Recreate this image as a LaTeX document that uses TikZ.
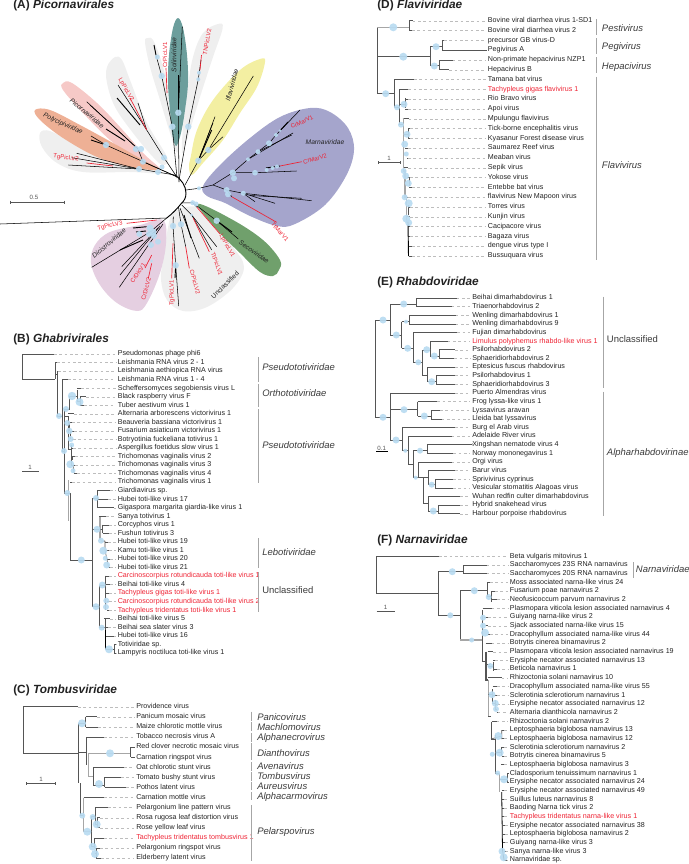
\documentclass[tikz,border=0pt]{standalone}
\usepackage{fontspec}
\setmainfont{Liberation Sans}
\definecolor{nodeblue}{HTML}{B9DBF1}
\definecolor{branchgrey}{HTML}{555555}
\definecolor{barGrey}{HTML}{A6A6A6}
\definecolor{leaderGrey}{HTML}{BDBDBD}
\definecolor{textblack}{HTML}{222222}
\definecolor{hitred}{HTML}{EE2233}
\definecolor{blobgrey}{HTML}{EFEFEF}
\definecolor{tealblob}{HTML}{6C9E9C}
\definecolor{yellowblob}{HTML}{F3EFA2}
\definecolor{purpleblob}{HTML}{A5A5CC}
\definecolor{greenblob}{HTML}{70A06C}
\definecolor{mauveblob}{HTML}{E5CFE1}
\definecolor{pinkblob}{HTML}{F6C9C7}
\definecolor{orangeblob}{HTML}{EEB095}
\tikzset{
  branch/.style={draw=branchgrey,line width=0.45pt},
  thickbranch/.style={draw=barGrey,line width=1.1pt},
  radial/.style={draw=black,line width=0.4pt},
  radialthick/.style={draw=black,line width=0.7pt},
  radialred/.style={draw=hitred,line width=0.5pt},
  leader/.style={draw=leaderGrey,line width=0.3pt,dash pattern=on 2pt off 2pt,shorten >=1.2pt},
  leaf/.style={anchor=west,inner sep=0pt,text height=3.9pt,text depth=1.1pt,font=\fontsize{5.35}{6}\selectfont},
  familybar/.style={draw=barGrey,line width=0.9pt},
  family/.style={anchor=west,inner sep=0pt,text=branchgrey!70!black,font=\fontsize{7.1}{8}\selectfont\itshape},
  plainfamily/.style={family,font=\fontsize{7.1}{8}\selectfont},
  paneltitle/.style={anchor=west,inner sep=0pt,text=textblack,font=\fontsize{8.9}{10}\selectfont\bfseries},
  scalebar/.style={draw=branchgrey,line width=0.4pt},
  scalelabel/.style={inner sep=0pt,text=branchgrey,font=\fontsize{4.6}{5}\selectfont},
  cladelabel/.style={inner sep=0pt,text=textblack,font=\fontsize{5}{6}\selectfont\itshape},
  redlabel/.style={inner sep=0pt,text=hitred,font=\fontsize{4.5}{5}\selectfont},
  support/.style={fill=nodeblue,opacity=0.92},
}
% rows of a tree: parent x / tip x / name / colour
\newcommand{\leafrows}[5]{%
  \foreach \px/\tip/\txt/\col [count=\i] in {#5} {
    \pgfmathsetmacro{\rowy}{#3+#4*(\i-1)}
    \node[leaf,text=\col] (#1\i) at (#2,\rowy) {\txt};
    \coordinate (#1t\i) at (\tip,\rowy);
    \draw[leader] (#1t\i) -- (#1\i.west);
    \draw[branch] (\px,\rowy) -- (#1t\i);
  }%
}
\newcommand{\supports}[1]{\foreach \cx/\cy/\cr in {#1} \fill[support] (\cx,\cy) circle (\cr);}
\begin{document}
\begin{tikzpicture}[x=0.75pt,y=0.75pt,yscale=-1,xscale=1]
\useasboundingbox (0,0) rectangle (689,864);

%Panel A, coloured clades
\fill[blobgrey] plot[smooth cycle,tension=0.6] coordinates {(148,38) (145,42) (150,67) (160,100) (170,133) (177,153) (177,133) (167,83) (160,57) (153,40)};
\fill[blobgrey] plot[smooth cycle,tension=0.6] coordinates {(218,24) (222.7,28) (213,57) (200,97) (187,140) (182,153) (183,127) (187,93) (193,57) (203,33)};
\fill[tealblob] plot[smooth cycle,tension=0.6] coordinates {(178,18) (183,28) (187,55) (188,83) (185,110) (181,133) (176,146) (172,133) (170,110) (168,83) (169,55) (173,28)};
\fill[yellowblob] plot[smooth cycle,tension=0.6] coordinates {(260,59) (265,62) (257,87) (240,113) (223,140) (203,163) (192,175) (189,167) (190.7,157) (197,130) (213,100) (240,70)};
\fill[blobgrey] plot[smooth cycle,tension=0.6] coordinates {(115,57) (107,67) (107,83) (115,107) (133,133) (153,157) (163,165) (167,157) (147,123) (130,80) (122,60)};
\fill[blobgrey] plot[smooth cycle,tension=0.6] coordinates {(40,133) (50,131) (73,143) (113,160) (163,173) (130,172) (83,172) (57,163) (42,147)};
\fill[pinkblob] plot[smooth cycle,tension=0.6] coordinates {(63,83) (72,83) (97,103) (120,127) (143,153) (161,170) (143,165) (110,140) (83,113) (63,90)};
\fill[orangeblob] plot[smooth cycle,tension=0.6] coordinates {(35,110) (50,110) (80,125) (113,143) (143,160) (160,170) (130,167) (97,157) (63,138) (40,120)};
\fill[purpleblob] plot[smooth cycle,tension=0.6] coordinates {(203,186) (220,165) (250,138) (280,117) (310,108) (330,112) (348,128) (354,150) (346,176) (325,205) (295,224) (277,226) (250,216) (225,203) (207,196)};
\fill[blobgrey] plot[smooth cycle,tension=0.6] coordinates {(170,218) (163,260) (161,280) (167,300) (183,311) (207,307) (233,288) (244,267) (233,247) (213,223) (197,207) (177,210)};
\fill[greenblob] plot[smooth cycle,tension=0.6] coordinates {(198,204) (233,220) (263,240) (280,260) (279,270) (273,276) (260,272) (240,253) (217,230)};
\fill[mauveblob] plot[smooth cycle,tension=0.6] coordinates {(163,220) (166,243) (160,273) (147,303) (137,311) (117,303) (100,285) (91,263) (95,245) (110,232) (140,225)};

%Panel A, backbone and root
\draw[radialthick] (175,175) .. controls (181,179) and (186,186) .. (186,193) .. controls (186,198) and (184,201) .. (181.7,203) .. controls (177,209) and (172,214) .. (166.7,218);
\draw[radial] (0,224) -- (166.7,218);
%Panel A, upper left clades
\draw[radial] (176.7,176.7) -- (164,157.7) -- (146.7,130) -- (118,85);
\draw[radial] (146.7,130) -- (138,103);
\draw[radialthick] (140,125) -- (117,98);
\draw[radialred] (146.7,130) -- (130,98);
\draw[radial] (176.7,176.7) -- (143,161.7) -- (138,149) -- (86.7,101.7);
\draw[radial] (138,149) -- (90,105);
\draw[radialthick] (125,141) -- (106,129);
\draw[radial] (176.7,176.7) -- (106,145) -- (91,136);
\draw[radialthick] (106,145) -- (91,140);
\draw[radial] (175,175) -- (139,169) -- (76.7,153.3);
\draw[radial] (139,169) -- (71.7,157.7);
\draw[radial] (139,169) -- (68.3,165);
\draw[radialred] (113,166) -- (86.7,163);
%Panel A, upper clades
\draw[radial] (177,178) -- (172.3,126.7) -- (161.7,76) -- (156,55);
\draw[radialthick] (156,55) -- (154,45);
\draw[radialred] (166,68) -- (167,93);
\draw[radial] (179,182) -- (178.3,112.7) -- (182.3,26.7);
\draw[radialthick] (178.3,112.7) -- (178.3,75);
\draw[radial] (179,180) -- (188.3,126.7) -- (198.3,79.3) -- (201,60);
\draw[radialred] (200,70) -- (201.5,55);
%Panel A, Iflaviviridae
\draw[radial] (185,185) -- (198.3,160.7) -- (208.3,150) -- (253.3,76);
\draw[radial] (208.3,150) -- (223,136.7);
\draw[radial] (198.3,160.7) -- (215,116.7);
\draw[radial] (198.3,160.7) -- (213,123);
\draw[radialthick] (198.3,160.7) -- (211.7,130);
%Panel A, Marnaviridae
\draw[radial] (186,190) -- (199,188.3) -- (213,185) -- (232.7,172.7) -- (255,172.7) -- (296.7,171);
\draw[radialthick] (266,168) -- (280,166);
\draw[radialred] (280,166) -- (301.7,161.7);
\draw[radial] (232.7,172.7) -- (248,159.3) -- (258,151.7) -- (269,143.3) -- (276,135) -- (300,110);
\draw[radial] (248,159.3) -- (293,133);
\draw[radial] (258,151.7) -- (291.7,135);
\draw[radialthick] (280,130.7) -- (288,122);
\draw[radial] (213,185) -- (226.7,190) -- (243.3,193.3) -- (311.7,200.7);
\draw[radial] (250,195.5) -- (301.7,198.3);
\draw[radial] (243.3,193.3) -- (275,203.3);
\draw[radial] (243.3,193.3) -- (255,201.7);
\draw[radial] (226.7,190) -- (231.7,196.7);
\draw[radialred] (231.7,196.7) -- (276.7,222.3);
%Panel A, Secoviridae
\draw[radial] (181.7,203) -- (192.7,202.7) -- (216.7,220.7) -- (238.3,239);
\draw[radialthick] (216.7,220.7) -- (232,232);
\draw[radialred] (197,207.3) -- (220,234);
\draw[radial] (192.7,202.7) -- (197,207.3);
%Panel A, Unclassified
\draw[radial] (181.7,205) -- (191.7,215) -- (216.7,246.7);
\draw[radial] (191.7,215) -- (211.7,250);
\draw[radialred] (193.3,218.3) -- (209.3,251.7);
\draw[radial] (180,208) -- (199.3,258.3);
\draw[radialthick] (184,215) -- (191,238);
\draw[radial] (178.5,207) -- (181,224.3) -- (185.7,246.7);
\draw[radialred] (185.7,246.7) -- (189.3,268.3);
\draw[radial] (173.3,216.7) -- (173,226) -- (175.7,265.3) -- (178.7,306);
\draw[radialthick] (175.7,265.3) -- (175,278);
\draw[radialred] (173,243.3) -- (171.7,278.3);
%Panel A, Dicistroviridae
\draw[radial] (166.7,218) -- (150,232) -- (91.7,267.3);
\draw[radialthick] (133,228) -- (146.7,226.7);
\draw[radialthick] (136,232) -- (146,231);
\draw[radialthick] (120,250) -- (143,240);
\draw[radial] (160,226) -- (120,275);
\draw[radial] (158,228) -- (121.7,266.7);
\draw[radial] (163,224) -- (119.3,287.3);
\draw[radialred] (151.7,255) -- (145,268);
\draw[radialred] (151.7,263.3) -- (148.3,278.3);
\draw[radialred] (126.7,223.3) -- (156.7,220);
%Panel A, support
\supports{178.3/112.7/3.2,172.3/126.7/3.2,188.3/126.7/3.2,161.7/76/3.2,157.3/57/2.5,199/72.7/2,198.3/79.3/2,208.3/150/3.2,198.3/160.7/3.2,164/157.7/3,143/161.7/3,136/149/3.2,141/149/3.2,106/145/3.2,158/172/3,162/167/2.5,139/169/3,
248/159.3/2,258/151.7/2.5,269/143.3/3,276/135/2,280/130.7/1.5,232.7/172.7/3.2,234/178.3/3,255/172.7/2.8,266.7/170/2,272.5/168/2,277/166.5/2,199/188.3/2,226.7/190/3,228/194.3/3,243.3/193.3/2.5,
192.7/202.7/2.5,196/204/2.5,216.7/220.7/3.2,191.7/215/1.5,181/224.3/3.2,173/226/3.2,175.7/265.3/3.2,150/228/3.5,153/232/3.5,149/234/3,154/236/3,139.3/234/3,158/241.7/3,151/245/3,151.7/261/1.5}
%Panel A, labels
\node[paneltitle] (titleA) at (13,5) {(A) \textit{Picornavirales}};
\node[cladelabel,rotate=90] (solin) at (174,55) {Solinviridae};
\node[redlabel,rotate=90] (crpic1) at (165,55) {CrPicLV1};
\node[redlabel,rotate=80] (tnpic2) at (207,42) {TNPicLV2};
\node[cladelabel,rotate=75] (iflavi) at (232,85) {Iflaviviridae};
\node[cladelabel] (marna) at (325,142) {Marnaviridae};
\node[redlabel,rotate=25] (crmar1) at (302,122) {CrMarV1};
\node[redlabel,rotate=15] (crmar2) at (315,159) {CrMarV2};
\node[cladelabel,rotate=-40] (picorna) at (87,113) {Picornaviridae};
\node[cladelabel,rotate=-25] (polyc) at (63,124) {Polycipiviridae};
\node[redlabel,rotate=-8] (tgpic2) at (66,158) {TgPicLV2};
\node[redlabel,rotate=-60] (lppic2) at (126,90) {LpPicLV2};
\node[redlabel,rotate=-60] (lppic1) at (227,246) {LpPicLV1};
\node[redlabel,rotate=-70] (ttpic1) at (217,264) {TtPicLV1};
\node[redlabel,rotate=-75] (crpic2) at (195,282) {CrPicLV2};
\node[redlabel,rotate=90] (tgpic1) at (172,293) {TgPicLV1};
\node[cladelabel,font=\fontsize{5}{6}\selectfont,rotate=45] (uncl) at (225,285) {Unclassified};
\node[cladelabel,rotate=-35] (seco) at (254,252) {Secoviridae};
\node[redlabel,rotate=-48] (ttmar1) at (280,232) {TtMarV1};
\node[cladelabel,rotate=40] (dicis) at (109,243) {Dicistroviridae};
\node[redlabel,rotate=55] (crdic1) at (138,273) {CrDicV1};
\node[redlabel,rotate=75] (crdic2) at (146,289) {CrDicV2};
\node[redlabel,rotate=15] (tgpic3) at (110,226) {TgPicLV3};
%scale bar
\draw[scalebar] (10,202) -- (64,202);
\draw[scalebar] (10,200.5) -- (10,203.5);
\draw[scalebar] (64,200.5) -- (64,203.5);
\node[scalelabel] (scaleA) at (34,197) {0.5};

%Panel B
\node[paneltitle] (titleB) at (13,339) {(B) \textit{Ghabrivirales}};
\leafrows{b}{117.5}{354}{8.54}{
22.3/54/Pseudomonas phage phi6/textblack,
55/57/Leishmania RNA virus 2 - 1/textblack,
57/58/Leishmania aethiopica RNA virus/textblack,
62/68/Leishmania RNA virus 1 - 4/textblack,
77/81/Scheffersomyces segobiensis virus L/textblack,
80/86/Black raspberry virus F/textblack,
80/84/Tuber aestivum virus 1/textblack,
68/74/Alternaria arborescens victorivirus 1/textblack,
69/72/Beauveria bassiana victorivirus 1/textblack,
70/74/Fusarium asiaticum victorivirus 1/textblack,
71.5/73/Botryotinia fuckeliana totivirus 1/textblack,
72/73/Aspergillus foetidus slow virus 1/textblack,
72/75/Trichomonas vaginalis virus 2/textblack,
71/75/Trichomonas vaginalis virus 3/textblack,
74/77/Trichomonas vaginalis virus 4/textblack,
70/72/Trichomonas vaginalis virus 1/textblack,
97/110/Giardiavirus sp./textblack,
97/108/Hubei toti-like virus 17/textblack,
97/114/Gigaspora margarita giardia-like virus 1/textblack,
99/106/Sanya totivirus 1/textblack,
102.5/109/Corcyphos virus 1/textblack,
102.5/109/Fushun totivirus 3/textblack,
105/108/Hubei toti-like virus 19/textblack,
106/109/Kamu toti-like virus 1/textblack,
107/110/Hubei toti-like virus 20/textblack,
108.5/110/Hubei toti-like virus 21/textblack,
105.7/109/Carcinoscorpius rotundicauda toti-like virus 1/hitred,
105.7/110/Beihai toti-like virus 4/textblack,
106/109/Tachypleus gigas toti-like virus 1/hitred,
106.5/109/Carcinoscorpius rotundicauda toti-like virus 2/hitred,
107/109/Tachypleus tridentatus toti-like virus 1/hitred,
104/110/Beihai toti-like virus 5/textblack,
103/108/Beihai sea slater virus 3/textblack,
105/114/Hubei toti-like virus 16/textblack,
114/116/Totiviridae sp./textblack,
114/116/Lampyris noctiluca toti-like virus 1/textblack}
%internal branches
\draw[branch] (22.3,354) -- (22.3,379.3) -- (55,379.3);
\draw[branch] (55,363) -- (55,379.3);
\draw[branch] (57,371) -- (57,416) (55,374) -- (57,374);
\draw[branch] (57,416) -- (62,416);
\draw[branch] (62,380) -- (62,451) -- (64,451);
\draw[branch] (64,410) -- (64,493);
\draw[branch] (64,409) -- (69,409) -- (69,396) -- (77,396);
\draw[branch] (77,390) -- (77,401) (77,401) -- (80,401);
\draw[branch] (80,397) -- (80,405);
\draw[branch] (64,416) -- (68,416) -- (68,449) -- (72,449);
\draw[branch] (69,422) -- (69,431) (70,431) -- (70,439);
\draw[branch] (71,445) -- (71,465) (72,456) -- (72,460);
\draw[branch] (73,465) -- (74,473);
\draw[thickbranch] (68.7,480) -- (68.7,521);
\draw[branch] (64,493) -- (70.7,493) -- (70.7,560) -- (92,560);
\draw[branch] (92,498) -- (92,606.7);
\draw[branch] (92,498) -- (97,498) (97,490.3) -- (97,507.4);
\draw[branch] (92,529) -- (100,529);
\draw[thickbranch] (100,517) -- (100,540);
\draw[branch] (100,529) -- (102.5,529) (102.5,524.5) -- (102.5,533);
\draw[branch] (101,541) -- (105,541) (105,541) -- (105,550) -- (108.5,567);
\draw[branch] (92,606.7) -- (99,606.7) (99,585) -- (99,627);
\draw[branch] (99,585) -- (105.7,585) (105.7,575.7) -- (105.7,610);
\draw[branch] (99,627) -- (105,627) (105,618) -- (105,649) -- (114,649) (114,644) -- (114,652.9);
\draw[draw=black,line width=0.6pt] (105,630) -- (105,649);
%support
\supports{59/416/3,66/409/3,64/451/3,72/396/4.2,79.5/402/4,67.3/423/3,69.3/431/3.3,70.7/439/3,71.7/445/2.5,70.3/464.3/4,73/470.7/2.5,67.3/493/3,81.3/560/3.5,96/498/3,97/529.3/3.5,101/540.7/3,103.3/550.7/4,105.3/558.3/2.5,106.7/565/3.5,96/606.7/3.5,102.3/585/3.5,106.3/600.7/3,106/607/3,101.7/627.7/3,109/649.3/4}
%families
\draw[familybar] (258.3,357) -- (258.3,381.7);
\draw[familybar] (258.3,384) -- (258.3,407);
\draw[familybar] (258.3,409) -- (258.3,483);
\draw[familybar] (258.3,538) -- (258.3,568);
\draw[familybar] (258.3,572) -- (258.3,612);
\node[family] (fb1) at (262,367) {Pseudototiviridae};
\node[family] (fb2) at (262,393) {Orthototiviridae};
\node[family] (fb3) at (262,445.6) {Pseudototiviridae};
\node[family] (fb4) at (262,552) {Lebotiviridae};
\node[plainfamily] (fb5) at (262,590) {Unclassified};
\draw[scalebar] (22,471.7) -- (38.7,471.7);
\node[scalelabel] (scaleB) at (30,467) {1};

%Panel C
\node[paneltitle] (titleC) at (13,690.7) {(C) \textit{Tombusviridae}};
\leafrows{c}{136}{706.7}{10.09}{
23.3/78/Providence virus/textblack,
85.7/97/Panicum mosaic virus/textblack,
85.7/98/Maize chlorotic mottle virus/textblack,
86.7/104/Tobacco necrosis virus A/textblack,
130.7/135/Red clover necrotic mosaic virus/textblack,
130.7/135/Carnation ringspot virus/textblack,
93/124/Oat chlorotic stunt virus/textblack,
104.7/121/Tomato bushy stunt virus/textblack,
104.7/126/Pothos latent virus/textblack,
83.7/104/Carnation mottle virus/textblack,
95/108/Pelargonium line pattern virus/textblack,
97/100/Rosa rugosa leaf distortion virus/textblack,
97/100/Rose yellow leaf virus/textblack,
94.7/104/Tachypleus tridentatus tombusvirus 1/hitred,
95/100/Pelargonium ringspot virus/textblack,
96/101/Elderberry latent virus/textblack}
\draw[branch] (23.3,706.7) -- (23.3,753) -- (78.5,753);
\draw[branch] (78.5,723) -- (78.5,783);
\draw[branch] (78.5,723) -- (85.7,723) (85.7,716.8) -- (85.7,726.9);
\draw[branch] (78.5,752) -- (86.7,752) (86.7,737) -- (86.7,765);
\draw[thickbranch] (88,753.3) -- (130.7,753.3);
\draw[branch] (130.7,747) -- (130.7,757);
\draw[thickbranch] (88.7,753) -- (88.7,776.7) -- (93,776.7);
\draw[branch] (93,767.2) -- (93,785.7) -- (104.7,785.7);
\draw[branch] (104.7,777.3) -- (104.7,787.4);
\draw[branch] (80,783) -- (80,815.7) -- (83.7,815.7);
\draw[thickbranch] (83.7,797.5) -- (83.7,831.7) -- (91,831.7);
\draw[branch] (91,816.7) -- (91,846.7);
\draw[branch] (91,816.7) -- (95,816.7) (95,807.6) -- (95,824) -- (97,824);
\draw[branch] (97,817.7) -- (97,827.7);
\draw[branch] (91,846.7) -- (94.7,846.7) (94.7,837.8) -- (94.7,848) (94.7,853) -- (96,853) (96,848) -- (96,858);
\supports{82/723.3/4,110/753.3/4,99/784/4,82.3/815.7/3,87.3/831.7/4,92.7/817/3,96.7/824.3/4,92.7/846.7/4,95/854/4}
\draw[familybar] (251.7,711.5) -- (251.7,721);
\draw[familybar] (251.7,722) -- (251.7,731);
\draw[familybar] (251.7,733) -- (251.7,741.5);
\draw[familybar] (251.7,743) -- (251.7,760);
\draw[familybar] (251.7,762) -- (251.7,771);
\draw[familybar] (251.7,772) -- (251.7,781);
\draw[familybar] (251.7,781.7) -- (251.7,790);
\draw[familybar] (251.7,792) -- (251.7,800);
\draw[familybar] (251.7,805) -- (251.7,861);
\node[family] (fc1) at (257,716.7) {Panicovirus};
\node[family] (fc2) at (257,727) {Machlomovirus};
\node[family] (fc3) at (257,737.7) {Alphanecrovirus};
\node[family] (fc4) at (257,752.7) {Dianthovirus};
\node[family] (fc5) at (257,765.7) {Avenavirus};
\node[family] (fc6) at (257,776) {Tombusvirus};
\node[family] (fc7) at (257,786) {Aureusvirus};
\node[family] (fc8) at (257,797) {Alphacarmovirus};
\node[family] (fc9) at (257,832) {Pelarspovirus};
\draw[scalebar] (26.3,783.3) -- (55.7,783.3);
\draw[scalebar] (26.3,782) -- (26.3,784.6) (55.7,782) -- (55.7,784.6);
\node[scalelabel] (scaleC) at (41,779) {1};

%Panel D
\node[paneltitle] (titleD) at (377,5) {(D) \textit{Flaviviridae}};
\leafrows{d}{487.7}{20.7}{9.8}{
409/412.7/Bovine viral diarrhea virus 1-SD1/textblack,
409/412/Bovine viral diarrhea virus 2/textblack,
442.3/444/precursor GB virus-D/textblack,
442.3/486.7/Pegivirus A/textblack,
439.3/452.7/Non-primate hepacivirus NZP1/textblack,
439.3/449.3/Hepacivirus B/textblack,
394.3/414/Tamana bat virus/textblack,
399.3/408.3/Tachypleus gigas flavivirus 1/hitred,
405.3/408/Rio Bravo virus/textblack,
405.3/408/Apoi virus/textblack,
402.7/408.7/Mpulungu flavivirus/textblack,
408.3/410/Tick-borne encephalitis virus/textblack,
408.3/410/Kyasanur Forest disease virus/textblack,
405.3/408/Saumarez Reef virus/textblack,
407/408/Meaban virus/textblack,
403.7/408.3/Sepik virus/textblack,
407.3/410/Yokose virus/textblack,
409/412/Entebbe bat virus/textblack,
405.7/408/flavivirus New Mapoon virus/textblack,
408.3/410/Torres virus/textblack,
407.3/410/Kunjin virus/textblack,
408.3/410/Cacipacore virus/textblack,
407.7/410/Bagaza virus/textblack,
408.3/412/dengue virus type I/textblack,
409/412/Bussuquara virus/textblack}
\draw[branch] (377,27) -- (377,93.3);
\draw[thickbranch,line width=0.7pt] (377,27) -- (409,27);
\draw[branch] (409,20.7) -- (409,30.5);
\draw[thickbranch,draw=branchgrey,line width=0.6pt] (377,56.7) -- (430,56.7);
\draw[branch] (430,46.7) -- (430,65.7) -- (439.3,65.7);
\draw[branch] (430,46.7) -- (442.3,46.7) (442.3,40.3) -- (442.3,50.1);
\draw[branch] (439.3,60) -- (439.3,69.7);
\draw[branch] (377,93.3) -- (394.3,93.3) (394.3,79.5) -- (394.3,107) -- (399.3,107);
\draw[branch] (399.3,89) -- (399.3,124);
\draw[branch] (399.3,104.3) -- (405.3,104.3) (405.3,98.1) -- (405.3,107.9);
\draw[branch] (399.3,124) -- (402.7,124);
\draw[thickbranch] (403.7,118) -- (403.7,171) -- (405,171) -- (405,197) -- (406.7,197) -- (406.7,222) -- (408,222);
\draw[draw=black,line width=0.7pt] (408,222) -- (408.5,256);
\draw[branch] (404,134.3) -- (408.3,134.3) (408.3,128) -- (408.3,138);
\draw[branch] (409,186) -- (409,177);
\draw[branch] (408.3,205) -- (408.3,215);
\supports{393.3/27.3/4,403.3/56.7/4,436/46.7/3.5,434.3/66/3.5,385.7/93.7/3.5,397/107.3/3,404/104.3/3.5,401/124.7/3,407/134.3/3.5,404.7/144.2/3.5,406.3/154/2.5,403.7/171/3,405.7/176/3.5,408.3/183.3/3.5,404.7/197.3/3,408.7/203.3/4,406.3/218.7/4,408.7/222.7/3.5}
\draw[familybar,line width=0.6pt] (596.7,19) -- (596.7,35);
\draw[familybar,line width=0.6pt] (596.7,38.3) -- (596.7,54.3);
\draw[familybar,line width=0.6pt] (596.7,57.3) -- (596.7,72.7);
\draw[familybar,line width=0.6pt] (596.7,76.7) -- (596.7,260);
\node[family] (fd1) at (601.7,28) {Pestivirus};
\node[family] (fd2) at (601.7,46.7) {Pegivirus};
\node[family] (fd3) at (601.7,66.7) {Hepacivirus};
\node[family] (fd4) at (601.7,165.3) {Flavivirus};
\draw[scalebar] (378.3,162.3) -- (400.7,162.3);
\draw[scalebar] (378.3,161) -- (378.3,163.6) (400.7,161) -- (400.7,163.6);
\node[scalelabel] (scaleD) at (389,158) {1};

%Panel E
\node[paneltitle] (titleE) at (377,282.7) {(E) \textit{Rhabdoviridae}};
\leafrows{e}{472}{298}{8.63}{
416.7/456.7/Beihai dimarhabdovirus 1/textblack,
416.7/451.7/Triaenorhabdovirus 2/textblack,
409/455.7/Wenling dimarhabdovirus 1/textblack,
409/455.7/Wenling dimarhabdovirus 9/textblack,
413.3/457.3/Fujian dimarhabdovirus/textblack,
430/447.7/Limulus polyphemus rhabdo-like virus 1/hitred,
439.3/455/Psilorhabdovirus 2/textblack,
439.3/454.3/Sphaeridiorhabdovirus 2/textblack,
427.7/455/Eptesicus fuscus rhabdovirus/textblack,
436/455/Psilorhabdovirus 1/textblack,
436/455/Sphaeridiorhabdovirus 3/textblack,
390/455/Puerto Almendras virus/textblack,
417.7/437.3/Frog lyssa-like virus 1/textblack,
431/440/Lyssavirus aravan/textblack,
431/441.7/Lleida bat lyssavirus/textblack,
402.3/455/Burg el Arab virus/textblack,
408/451.7/Adelaide River virus/textblack,
427/472/Xingshan nematode virus 4/textblack,
427/453.3/Norway mononegavirus 1/textblack,
418.3/451.7/Orgi virus/textblack,
428/455/Barur virus/textblack,
435/453/Sprivivirus cyprinus/textblack,
435/453/Vesicular stomatitis Alagoas virus/textblack,
428.3/460/Wuhan redfin culter dimarhabdovirus/textblack,
438.3/460/Hybrid snakehead virus/textblack,
438.3/460/Harbour porpoise rhabdovirus/textblack}
\draw[branch] (375.3,320) -- (375.3,417.3);
\draw[branch] (375.3,320) -- (390,320) (390,304.3) -- (390,335);
\draw[branch] (390,304.3) -- (416.7,304.3) (416.7,298) -- (416.7,306.6);
\draw[branch] (390,335) -- (401.7,335) (401.7,321.7) -- (401.7,348.3);
\draw[branch] (401.7,321.7) -- (409,321.7) (409,315.3) -- (409,323.9);
\draw[branch] (401.7,348.3) -- (413.3,348.3) (413.3,332.5) -- (413.3,362.3);
\draw[branch] (413.3,362.3) -- (422.3,362.3) (422.3,350) -- (422.3,375);
\draw[branch] (422.3,350) -- (430,350) (430,341.2) -- (430,356);
\draw[branch] (430,356) -- (439.3,356) (439.3,349.8) -- (439.3,358.4);
\draw[branch] (422.3,375) -- (427.7,375) (427.7,367) -- (427.7,381.7);
\draw[branch] (427.7,381.7) -- (436,381.7) (436,375.7) -- (436,384.3);
\draw[branch] (375.3,417.3) -- (390,417.3) (390,392.9) -- (390,440);
\draw[branch] (390,409.5) -- (417.7,409.5) (417.7,401.6) -- (417.7,416);
\draw[branch] (417.7,416) -- (431,416) (431,410.2) -- (431,418.8);
\draw[branch] (390,440) -- (402.3,440) (402.3,427.5) -- (402.3,450.7);
\draw[branch] (402.3,450.7) -- (408,450.7) (408,436.1) -- (408,464);
\draw[branch] (408,464) -- (413.3,464) (413.3,450.7) -- (413.3,477.7);
\draw[branch] (413.3,450.7) -- (427,450.7) (427,444.7) -- (427,453.3);
\draw[branch] (413.3,477.7) -- (418.3,477.7) (418.3,462) -- (418.3,477.7);
\draw[branch] (418.3,477.7) -- (423,477.7) (423,477.7) -- (423,503);
\draw[branch] (423,477.7) -- (428,477.7) (428,470.6) -- (428,484.3);
\draw[branch] (428,484.3) -- (435,484.3) (435,479.2) -- (435,487.9);
\draw[branch] (423,503) -- (428.3,503) (428.3,496.5) -- (428.3,511);
\draw[branch] (428.3,511) -- (438.3,511) (438.3,505.1) -- (438.3,513.8);
\supports{383/320/3.5,403.7/304/3.5,396.3/335/3.5,406/321.7/2,407.7/348.3/3.5,418.3/362.3/3,426.7/349.7/3.5,434.3/356/3.5,431.7/381.7/3.5,383/417.3/3.5,404/409.7/3.5,424.3/416/3.5,396/440/3.5,405.3/450.7/2,420/450.7/3,415.7/477.7/2,431.7/484.7/3,433.3/511/3.5}
\draw[familybar,line width=0.6pt] (603.7,296.7) -- (603.7,388.3);
\draw[familybar,line width=0.6pt] (603.7,391.7) -- (603.7,515.7);
\node[plainfamily] (fe1) at (606.7,339.3) {Unclassified};
\node[family] (fe2) at (606.7,452.7) {Alpharhabdovirinae};
\draw[scalebar,draw=black] (376,451.7) -- (387.7,451.7);
\node[scalelabel] (scaleE) at (381.7,448) {0.1};

%Panel F
\node[paneltitle] (titleF) at (377,540.3) {(F) \textit{Narnaviridae}};
\leafrows{f}{509.7}{556.3}{8.677}{
376.3/439/Beta vulgaris mitovirus 1/textblack,
463.7/486.7/Saccharomyces 23S RNA narnavirus/textblack,
463.7/486.7/Saccharomyces 20S RNA narnavirus/textblack,
487.3/490/Moss associated narna-like virus 24/textblack,
491.7/495/Fusarium poae narnavirus 2/textblack,
491.7/497/Neofusicoccum parvum narnavirus 2/textblack,
482.7/491.7/Plasmopara viticola lesion associated narnavirus 4/textblack,
484.3/488/Guiyang narna-like virus 2/textblack,
485/488/Sjack associated narna-like virus 15/textblack,
488/490/Dracophyllum associated narna-like virus 44/textblack,
485.7/491.7/Botrytis cinerea binarnavirus 2/textblack,
487.7/493.3/Plasmopara viticola lesion associated narnavirus 19/textblack,
493.3/495/Erysiphe necator associated narnavirus 13/textblack,
493.3/497/Beticola narnavirus 1/textblack,
487.7/501.7/Rhizoctonia solani narnavirus 10/textblack,
492.7/497/Dracophyllum associated narna-like virus 55/textblack,
493.3/497/Sclerotinia sclerotiorum narnavirus 1/textblack,
495/497/Erysiphe necator associated narnavirus 12/textblack,
496.7/497.7/Alternaria dianthicola narnavirus 2/textblack,
491.7/496.7/Rhizoctonia solani narnavirus 2/textblack,
501.7/504/Leptosphaeria biglobosa narnavirus 13/textblack,
501.7/504/Leptosphaeria biglobosa narnavirus 12/textblack,
501.7/504/Sclerotinia sclerotiorum narnavirus 2/textblack,
501.7/504/Botrytis cinerea binarnavirus 5/textblack,
501/504/Leptosphaeria biglobosa narnavirus 3/textblack,
507.3/508.5/Cladosporium tenuissimum narnavirus 1/textblack,
507.3/508.5/Erysiphe necator associated narnavirus 24/textblack,
501.7/504/Erysiphe necator associated narnavirus 49/textblack,
502/504/Suillus luteus narnavirus 8/textblack,
502/504/Baoding Narna tick virus 2/textblack,
502/504/Tachypleus tridentatus narna-like virus 1/hitred,
502.5/505/Erysiphe necator associated narnavirus 38/textblack,
502.5/505/Leptosphaeria biglobosa narnavirus 2/textblack,
503/505/Guiyang narna-like virus 3/textblack,
504/506/Sanya narna-like virus 3/textblack,
504/507/Narnaviridae sp./textblack}
\draw[branch] (376.3,556.3) -- (376.3,593.3) -- (438.3,593.3);
\draw[branch] (438.3,571.7) -- (438.3,615);
\draw[branch] (438.3,571.7) -- (463.7,571.7) (463.7,565) -- (463.7,573.7);
\draw[branch] (438.3,615) -- (460.3,615) (460.3,590.7) -- (460.3,640);
\draw[branch] (460.3,590.7) -- (487.3,590.7) (487.3,582) -- (487.3,596.7) -- (491.7,596.7);
\draw[branch] (491.7,591) -- (491.7,601.7);
\draw[thickbranch] (460.3,640) -- (482.7,640);
\draw[branch] (482.7,610) -- (482.7,661.7) -- (486,661.7);
\draw[thickbranch,draw=branchgrey] (486,651.7) -- (486,680) -- (488.3,680);
\draw[branch] (486,664) -- (490,664) (493.3,661.7) -- (493.3,670.7) (488,666) -- (493.3,666);
\draw[thickbranch] (488.3,680) -- (488.3,716.7);
\draw[branch] (488.3,694.7) -- (492.7,694.7) (492.7,689) -- (492.7,703) -- (495,703);
\draw[branch] (495,700) -- (495,709) -- (496.7,709);
\draw[branch] (488.3,716.7) -- (491,716.7) (491,722.3) -- (491,739) -- (495,739);
\draw[branch] (491,739) -- (501.7,736) (501.7,730) -- (501.7,739);
\draw[branch] (495,735) -- (495,773.3) -- (499.7,773.3);
\draw[branch] (495,752.7) -- (501.7,752.7) (501.7,747) -- (501.7,756);
\draw[thickbranch] (499.7,773.3) -- (499.7,792);
\draw[branch] (499.7,779.3) -- (507.3,779.3) (507.3,773) -- (507.3,782);
\draw[draw=black,line width=0.6pt] (501.7,792) -- (502.5,850) -- (504,860);
\supports{452.3/571.7/3.5,450.3/615.3/3,474.3/590.7/3.5,488.7/597/3,471.7/640/2.5,483/617.7/3,483/625.7/3,485/632.7/4,490.3/666/3,492/694.7/3.5,495.3/703.3/3.5,496/709/3,498.3/736/4,492.3/754.3/2.5,499.7/752.7/4,497.7/773/2.5,504/779.3/4,502/851.3/3.5,503.7/857.3/4}
\draw[familybar,line width=0.6pt] (633.3,562.3) -- (633.3,578.3);
\node[family] (ff1) at (635.7,569.3) {Narnaviridae};
\draw[scalebar] (376.7,611) -- (395,611);
\node[scalelabel] (scaleF) at (385.7,607) {1};
\end{tikzpicture}
\end{document}
